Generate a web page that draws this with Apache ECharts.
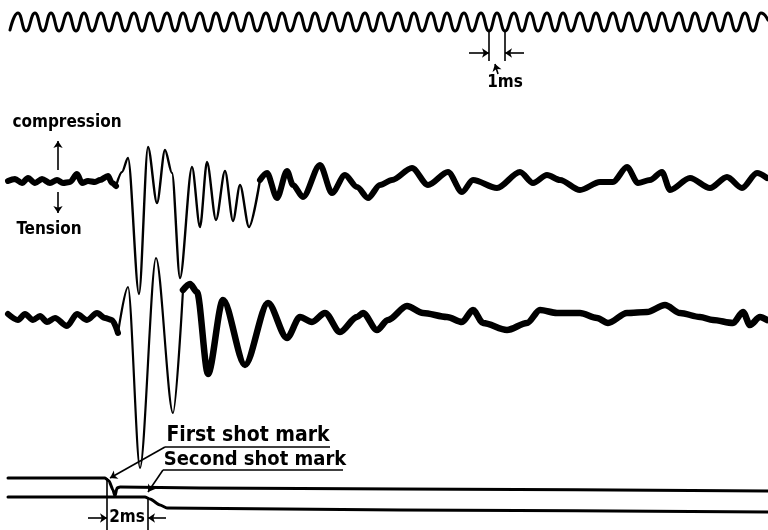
<!DOCTYPE html>
<html><head><meta charset="utf-8">
<script src="https://cdn.jsdelivr.net/npm/echarts@6/dist/echarts.min.js"></script>
<style>html,body{margin:0;padding:0;background:#fff}#c{width:768px;height:530px}</style>
</head><body><div id="c"></div>
<script>
// ---------- DATA (time along record, deflection: + = up / compression) ----------
// Timing trace (1 ms per cycle): times of successive extrema and their deflections
const timingT = [10,18,26,35,43,51,59,68,76,84,92,101,109,117,125,134,142,150,158,167,175,183,191,200,208,216,224,233,241,249,257,266,274,282,290,299,307,315,323,332,340,348,356,365,373,381,389,398,406,414,422,431,439,447,455,464,472,481,489,497,505,514,522,530,538,547,555,563,571,580,588,596,604,613,621,629,637,646,654,662,670,679,687,695,703,712,720,728,736,745,753,761,768];
const timingD = [-8,9,-9,9,-9,9,-9,9,-9,9,-9,9,-9,9,-9,9,-9,9,-9,9,-9,9,-9,9,-9,9,-9,9,-9,9,-9,9,-9,9,-9,9,-9,9,-9,9,-9,9,-9,9,-9,9,-9,9,-9,9,-9,9,-9,9,-9,9,-9,9,-9,9,-9,9,-9,9,-9,9,-9,9,-9,9,-9,9,-9,9,-9,9,-9,9,-9,9,-9,9,-9,9,-9,9,-9,9,-9,9,-9,9,2];

// Upper seismic trace
const trace1T = [8,15,22,28,35,42,50,57,63,70,77,82,88,95,100,108,112,116,122,128,139,148,157,165,172,180,192,200,207,216,225,233,240,249,260,267,277,287,293,303,320,332,345,357,368,380,392,412,428,448,462,473,497,520,533,547,560,580,600,613,627,638,650,662,670,690,710,727,742,757,767];
const trace1D = [1,3,-1,4,-1,3,-1,2,-1,0,8,-1,1,0,2,6,-1,-4,10,24,-112,35,-21,32,9,-96,15,-45,20,-38,11,-39,-3,-45,2,9,-16,11,-3,-15,17,-11,7,-5,-16,-3,2,14,-3,10,-10,2,-6,10,-1,7,2,-8,0,0,15,-1,2,10,-8,4,-6,5,-6,9,4];

// Lower seismic trace
const trace2T = [8,18,25,33,40,47,55,67,77,87,97,105,112,118,128,140,156,173,183,190,197,208,223,245,268,287,300,312,325,340,357,363,377,388,407,423,447,462,473,483,507,527,540,557,580,597,608,627,647,665,680,700,713,733,743,750,760,767];
const trace2D = [4,-2,4,-2,2,-4,0,-8,4,-2,5,0,-2,-15,31,-150,60,-95,28,34,26,-56,18,-47,15,-20,1,-4,5,-14,1,5,-12,-2,12,5,1,-4,8,-5,-12,-5,8,5,5,0,-5,5,6,13,5,1,-2,-5,6,-7,1,-2];

// Shot-mark channels
const shot1T = [8,105,109,113,115,117,120,200,400,768];
const shot1D = [0,0,-3,-12,-18,-10,-9,-10,-11,-13];
const shot2T = [8,145,150,160,167,400,768];
const shot2D = [0,0,-2,-8,-11,-13,-15];

// Text labels
const labels = ['compression','Tension','1ms','2ms','First shot mark','Second shot mark'];

// ---------- LAYOUT / STYLE ----------
const base = {timing:22, t1:182, t2:318, s1:478, s2:497};
const thin1 = [116, 260], thin2 = [118, 183];
const INK = '#000000';
const FONT = '"DejaVu Sans Condensed", "DejaVu Sans", sans-serif';

function pts(T, D, b, lo, hi){
  const out = [];
  T.forEach((t,i)=>{ if(t>=lo && t<=hi) out.push([t, b - D[i]]); });
  return out;
}
function line(data, w, smooth){
  return {type:'line', data, showSymbol:false, symbol:'none', smooth:smooth, smoothMonotone:'x',
    lineStyle:{color:INK, width:w, cap:'round', join:'round'}, silent:true, z:3};
}
const labelPos = [
  {name:labels[0], value:[67,123], size:17},
  {name:labels[1], value:[49,230], size:17},
  {name:labels[2], value:[505,83], size:17},
  {name:labels[3], value:[127,518], size:17},
  {name:labels[4], value:[248,436], size:21},
  {name:labels[5], value:[255,460], size:20}
];
const arrows = [
  [[58,170],[58,141]],
  [[58,192],[58,213]],
  [[469,53],[489,53]],
  [[524,53],[505,53]],
  [[498,74],[495,64]],
  [[88,518],[107,518]],
  [[166,518],[148,518]],
  [[165,447],[110,478]],
  [[163,470],[148,492]]
];
const plain = [
  [[489,31],[489,61]],
  [[505,31],[505,61]],
  [[107,478],[107,530]],
  [[148,497],[148,530]],
  [[330,447],[165,447]],
  [[343,470],[163,470]]
];

const series = [
  line(pts(timingT, timingD, base.timing, 0, 800), 3, 0.5),
  line(pts(trace1T, trace1D, base.t1, 0, thin1[0]), 6, 0.3),
  line(pts(trace1T, trace1D, base.t1, thin1[0], thin1[1]), 2.4, 0.3),
  line(pts(trace1T, trace1D, base.t1, thin1[1], 800), 6, 0.3),
  line(pts(trace2T, trace2D, base.t2, 0, thin2[0]), 6, 0.3),
  line(pts(trace2T, trace2D, base.t2, thin2[0], thin2[1]), 2.2, 0.3),
  line(pts(trace2T, trace2D, base.t2, thin2[1], 800), 6.5, 0.3),
  line(pts(shot1T, shot1D, base.s1, 0, 800), 3, 0.2),
  line(pts(shot2T, shot2D, base.s2, 0, 800), 3, 0.2),
  {type:'lines', coordinateSystem:'cartesian2d', silent:true, z:4,
   symbol:['none','arrow'], symbolSize:7,
   lineStyle:{color:INK, width:1.6, opacity:1},
   data: arrows.map(c=>({coords:c}))},
  {type:'lines', coordinateSystem:'cartesian2d', silent:true, z:4,
   symbol:['none','none'],
   lineStyle:{color:INK, width:1.6, opacity:1},
   data: plain.map(c=>({coords:c}))},
  {type:'scatter', symbolSize:0, silent:true, z:5, itemStyle:{opacity:1},
   data: labelPos.map(l=>({name:l.name, value:l.value,
     label:{show:true, position:'inside', formatter:'{b}', color:INK, opacity:1,
            textBorderWidth:0, fontFamily:FONT, fontWeight:'bold', fontSize:l.size}}))}
];

const chart = echarts.init(document.getElementById('c'), null, {renderer:'canvas'});
chart.setOption({
  animation:false,
  backgroundColor:'#ffffff',
  grid:{left:0, right:0, top:0, bottom:0},
  xAxis:{type:'value', min:0, max:768, show:false},
  yAxis:{type:'value', min:0, max:530, inverse:true, show:false},
  series
});
</script></body></html>
